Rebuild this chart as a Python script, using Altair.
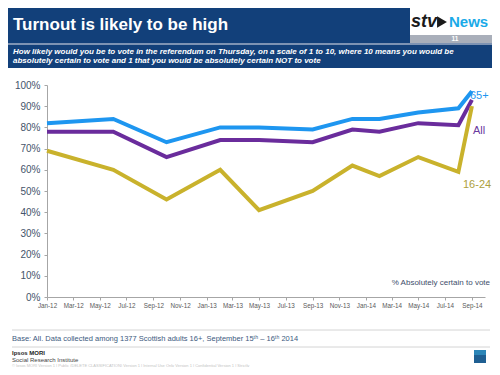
import altair as alt
import pandas as pd

# ---- data ----
survey_dates = ["2012-01-01", "2012-06-01", "2012-10-01", "2013-02-01", "2013-05-01",
                "2013-09-01", "2013-12-01", "2014-02-01", "2014-05-01", "2014-08-01", "2014-09-01"]
series_names = ["65+", "All", "16-24"]
age_65_plus = [82, 84, 73, 80, 80, 79, 84, 84, 87, 89, 97]
all_adults = [78, 78, 66, 74, 74, 73, 79, 78, 82, 81, 93]
age_16_24 = [69, 60, 46, 60, 41, 50, 62, 57, 66, 59, 90]
tick_months = [(2012, 1), (2012, 3), (2012, 5), (2012, 7), (2012, 9), (2012, 11),
               (2013, 1), (2013, 3), (2013, 5), (2013, 7), (2013, 9), (2013, 11),
               (2014, 1), (2014, 3), (2014, 5), (2014, 7), (2014, 9)]
y_ticks = [0, 10, 20, 30, 40, 50, 60, 70, 80, 90, 100]

colors = ["#1E96F0", "#6A2C9C", "#C9B22C"]
label_colors = ["#1E96F0", "#6A3A9E", "#ADA03C"]

rows = []
for name, vals in zip(series_names, [age_65_plus, all_adults, age_16_24]):
    for d, v in zip(survey_dates, vals):
        rows.append({"date": d, "value": v, "series": name})
df = pd.DataFrame(rows)

FONT = "Liberation Sans"
W, H = 438, 212

lines = alt.Chart(df).mark_line(strokeWidth=4, strokeJoin="miter").encode(
    x=alt.X("date:T",
            scale=alt.Scale(type="utc",
                            domain=[alt.DateTime(year=2012, month=1, date=1, utc=True),
                                    alt.DateTime(year=2014, month=10, date=1, utc=True)]),
            axis=alt.Axis(values=[alt.DateTime(year=y, month=m, date=1, utc=True) for y, m in tick_months],
                          labelExpr="utcFormat(datum.value, '%b-%y')", title=None, grid=False,
                          domainColor="#A6A6A6", tickColor="#A6A6A6", tickSize=3,
                          labelFontSize=6.3, labelColor="#5A5A5A", labelFont=FONT,
                          labelPadding=2, labelOverlap=False, labelFlush=False)),
    y=alt.Y("value:Q", scale=alt.Scale(domain=[0, 100]),
            axis=alt.Axis(values=y_ticks, labelExpr="datum.value + '%'", title=None, grid=False,
                          domainColor="#A6A6A6", tickColor="#A6A6A6", tickSize=3,
                          labelFontSize=10, labelColor="#44546A", labelFont=FONT,
                          labelPadding=4, labelFlush=False)),
    color=alt.Color("series:N", scale=alt.Scale(domain=series_names, range=colors), legend=None),
    detail="series:N",
)

one = pd.DataFrame({"a": [0]})


def rect(x, x2, y, y2, color):
    return alt.Chart(one).mark_rect(color=color).encode(
        x=alt.value(x), x2=alt.value(x2), y=alt.value(y), y2=alt.value(y2))


def rule(x, x2, y, color):
    return alt.Chart(one).mark_rule(color=color, strokeWidth=1).encode(
        x=alt.value(x), x2=alt.value(x2), y=alt.value(y))


def text(t, x, y, size, color, weight="normal", style="normal", align="left", font=FONT):
    return alt.Chart(one).mark_text(align=align, baseline="middle", fontSize=size, color=color,
                                    fontWeight=weight, fontStyle=style, font=font).encode(
        x=alt.value(x), y=alt.value(y), text=alt.value(t))


deco = [
    # header
    rect(-39, 445, -77, -42, "#12407A"),
    rect(-39, 445, -42, -40, "#7D93B3"),
    rect(-39, 445, -40, -17, "#12407A"),
    text("Turnout is likely to be high", -34, -60, 17, "white", weight="bold"),
    text("How likely would you be to vote in the referendum on Thursday, on a scale of 1 to 10, where 10 means you would be",
         -34, -33, 8, "white", weight="bold", style="italic"),
    text("absolutely certain to vote and 1 that you would be absolutely certain NOT to vote",
         -34, -24, 8, "white", weight="bold", style="italic"),
    # logo
    rect(363, 445, -77, -50, "white"),
    rect(363, 445, -50, -42, "#A9AFBA"),
    text("11", 408, -46, 6.5, "white", weight="bold", align="center"),
    text("stv", 364, -63, 18, "#1A1A1A", weight="bold", style="italic"),
    alt.Chart(one).mark_point(shape="triangle-right", filled=True, color="#1A1A1A", size=130, opacity=1).encode(
        x=alt.value(395), y=alt.value(-63)),
    text("News", 402, -63, 15, "#1AAAE8", weight="bold"),
    # chart annotations
    text("65+", 423, 11, 11, label_colors[0]),
    text("All", 426, 46, 11, label_colors[1]),
    text("16-24", 416, 100, 11, label_colors[2]),
    text("% Absolutely  certain to vote", 443, 198, 8, "#3E4E6A", align="right"),
    # footer
    rule(-35, 443, 245, "#D4D4D4"),
    text("Base: All.  Data collected among 1377 Scottish adults 16+, September 15ᵗʰ – 16ᵗʰ 2014",
         -35, 254, 7.5, "#3D5A80"),
    rule(-35, 443, 262, "#D4D4D4"),
    text("Ipsos MORI", -35, 268, 6, "#222222", weight="bold"),
    text("Social Research Institute", -35, 275, 6, "#444444"),
    text("© Ipsos MORI   Version 1 | Public (DELETE CLASSIFICATION)   Version 1 | Internal Use Only   Version 1 | Confidential   Version 1 | Strictly",
         -35, 280.5, 4, "#C4C4C4"),
    rect(427, 439, 265, 278, "#1F5F92"),
    rect(427, 439, 265, 270, "#2C86B8"),
]

chart = alt.layer(lines, *deco).properties(
    width=W, height=H,
    autosize=alt.AutoSizeParams(type="none"),
    padding={"left": 39, "top": 77, "right": 7, "bottom": 70},
).configure_view(stroke=None)

chart.save("out.html", embed_options={"renderer": "svg", "actions": False})
